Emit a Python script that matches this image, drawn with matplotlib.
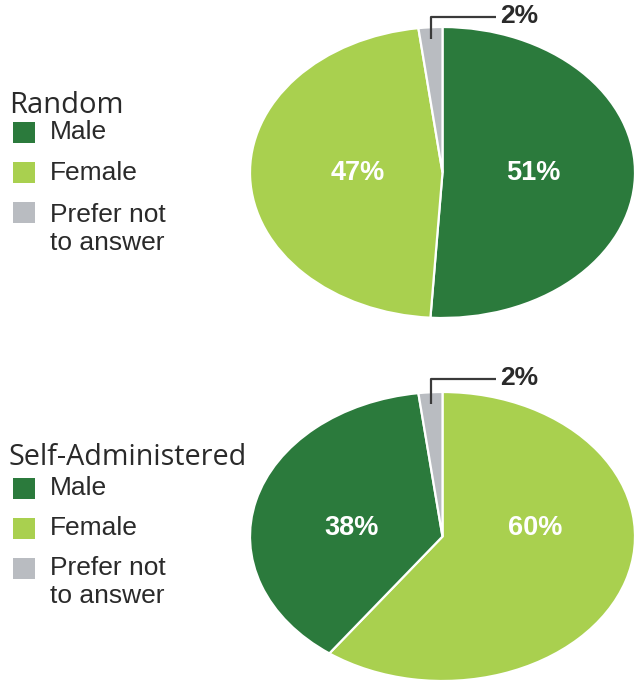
import matplotlib
matplotlib.use("Agg")
import matplotlib.pyplot as plt
import numpy as np

# Gender split by survey mode (percent)
categories = ["Male", "Female", "Prefer not\nto answer"]
random_values = [51, 47, 2]          # Male, Female, Prefer not to answer
self_admin_values = [38, 60, 2]      # Male, Female, Prefer not to answer
panel_titles = ["Random", "Self-Administered"]

colors = {"Male": "#2b7a3c", "Female": "#a9d04f", "Prefer not\nto answer": "#b9bcc1"}

W, H = 635, 681
fig = plt.figure(figsize=(W / 100, H / 100), dpi=100)
fig.patch.set_facecolor("white")


def px_axes(x0, y0, x1, y1):
    """Axes spanning a pixel box given from the top-left corner."""
    return fig.add_axes([x0 / W, 1 - y1 / H, (x1 - x0) / W, (y1 - y0) / H])


def draw_pie(ax, values, order, label_pos, small_label_y):
    vals = [values[categories.index(c)] for c in order]
    cols = [colors[c] for c in order]
    wedges, _ = ax.pie(vals, colors=cols, startangle=90, counterclock=False,
                       wedgeprops=dict(edgecolor="white", linewidth=1.6))
    ax.set_aspect("auto")
    ax.set_xlim(-1, 1)
    ax.set_ylim(-1, 1)
    ax.axis("off")
    # White percentage labels on the two large slices
    for cat, (x, y) in label_pos.items():
        v = values[categories.index(cat)]
        ax.text(x, y, f"{v}%", color="white", fontsize=19.5, fontweight="bold",
                family="Liberation Sans", ha="center", va="center")
    # Leader line for the small slice
    small = order[-1]
    w = wedges[-1]
    mid = np.deg2rad((w.theta1 + w.theta2) / 2)
    sx, sy = 0.97 * np.cos(mid), 0.92 * np.sin(mid)
    ax.plot([sx, sx, 0.28], [sy, small_label_y, small_label_y], color="#3a3a3a",
            lw=1.6, clip_on=False, solid_capstyle="butt")
    ax.text(0.30, small_label_y + 0.01, f"{values[categories.index(small)]}%",
            color="#2a2a2a", fontsize=19, fontweight="bold", family="Liberation Sans",
            ha="left", va="center", clip_on=False)


def draw_legend(title, title_baseline, title_size, swatch_tops, text_centers):
    fig.text(9 / W, 1 - title_baseline / H, title, fontsize=title_size, family="Open Sans",
             color="#2a2a2a", ha="left", va="baseline")
    for cat, top, tc in zip(categories, swatch_tops, text_centers):
        fig.patches.append(plt.Rectangle((13 / W, 1 - (top + 21) / H), 22 / W, 21 / H,
                                         transform=fig.transFigure,
                                         facecolor=colors[cat], edgecolor="none"))
        fig.text(50 / W, 1 - tc / H, cat, fontsize=19, family="Liberation Sans",
                 color="#2a2a2a", ha="left", va="center", linespacing=1.2)


ax1 = px_axes(250, 27, 635, 318)
draw_pie(ax1, random_values, ["Male", "Female", "Prefer not\nto answer"],
         {"Male": (0.47, 0.0), "Female": (-0.44, 0.0)}, 1.069)
draw_legend(panel_titles[0], 113, 21, [122, 162, 202], [132, 173, 229])

ax2 = px_axes(250, 392, 635, 681)
draw_pie(ax2, self_admin_values, ["Female", "Male", "Prefer not\nto answer"],
         {"Female": (0.48, 0.06), "Male": (-0.47, 0.06)}, 1.087)
draw_legend(panel_titles[1], 465, 20.7, [478, 518, 558], [488, 528, 582])

fig.savefig("out.png", dpi=100, facecolor="white")
